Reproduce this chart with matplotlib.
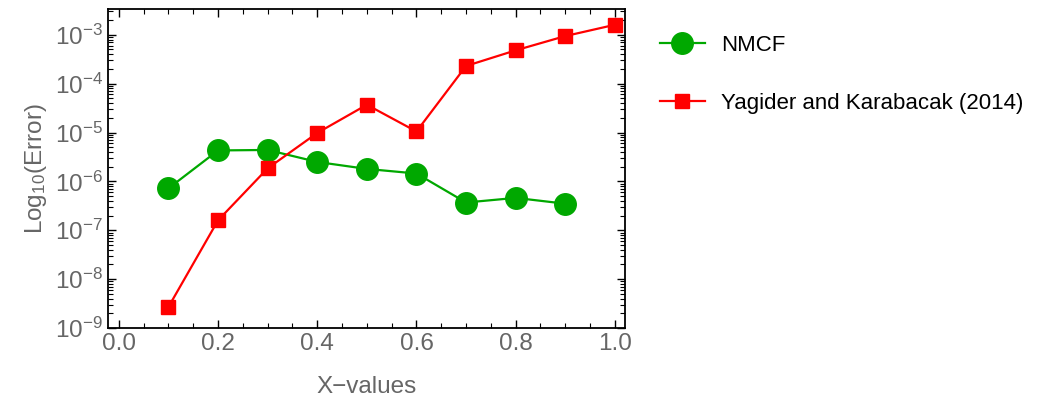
import numpy as np
import matplotlib.pyplot as plt
from matplotlib.ticker import MultipleLocator, LogLocator, NullFormatter

plt.rcParams['font.family'] = ['Liberation Sans', 'DejaVu Sans']
plt.rcParams['mathtext.fontset'] = 'custom'
plt.rcParams['mathtext.rm'] = 'Liberation Sans'
plt.rcParams['mathtext.it'] = 'Liberation Sans'

# data
x_nmcf = [0.1, 0.2, 0.3, 0.4, 0.5, 0.6, 0.7, 0.8, 0.9]
err_nmcf = [7.2e-7, 4.3e-6, 4.4e-6, 2.5e-6, 1.8e-6, 1.45e-6, 3.7e-7, 4.6e-7, 3.5e-7]

x_yk = [0.1, 0.2, 0.3, 0.4, 0.5, 0.6, 0.7, 0.8, 0.9, 1.0]
err_yk = [2.7e-9, 1.6e-7, 1.85e-6, 9.8e-6, 3.7e-5, 1.05e-5, 2.3e-4, 4.8e-4, 9.4e-4, 1.6e-3]

grey = '#666666'
green = '#00a800'
red = '#ff0000'

fig = plt.figure(figsize=(10.43, 4.03), dpi=100)
ax = fig.add_axes([0.1035, 0.186, 0.4955, 0.792])

ax.plot(x_nmcf, err_nmcf, color=green, lw=1.6, marker='o', ms=15.5, label='NMCF')
ax.plot(x_yk, err_yk, color=red, lw=1.6, marker='s', ms=10.5, label='Yagider and Karabacak (2014)')

ax.set_yscale('log')
ax.set_xlim(-0.022, 1.02)
ax.set_ylim(1e-9, 10**-2.47)

ax.xaxis.set_major_locator(MultipleLocator(0.2))
ax.xaxis.set_minor_locator(MultipleLocator(0.05))
ax.xaxis.set_major_formatter(plt.FuncFormatter(lambda v, p: f'{v:.1f}'))
ax.yaxis.set_major_locator(LogLocator(base=10, numticks=20))
ax.yaxis.set_minor_locator(LogLocator(base=10, subs=np.arange(2, 10), numticks=20))
ax.yaxis.set_minor_formatter(NullFormatter())

ax.tick_params(which='both', direction='in', top=True, right=True, colors='black',
               labelcolor=grey, labelsize=17.5)
ax.tick_params(which='major', length=6, width=1)
ax.tick_params(which='minor', length=3.5, width=0.8)
for s in ax.spines.values():
    s.set_linewidth(1.3)

ax.set_xlabel('X\u2212values', color=grey, fontsize=17.5, labelpad=15)
ax.set_ylabel('Log$_{10}$(Error)', color=grey, fontsize=17.5, labelpad=4)

fig.legend(loc='upper left', bbox_to_anchor=(0.624, 0.935), frameon=False,
           fontsize=16, handlelength=2.05, handletextpad=0.7, labelspacing=1.65,
           borderaxespad=0)

fig.savefig('out.png', dpi=100)
